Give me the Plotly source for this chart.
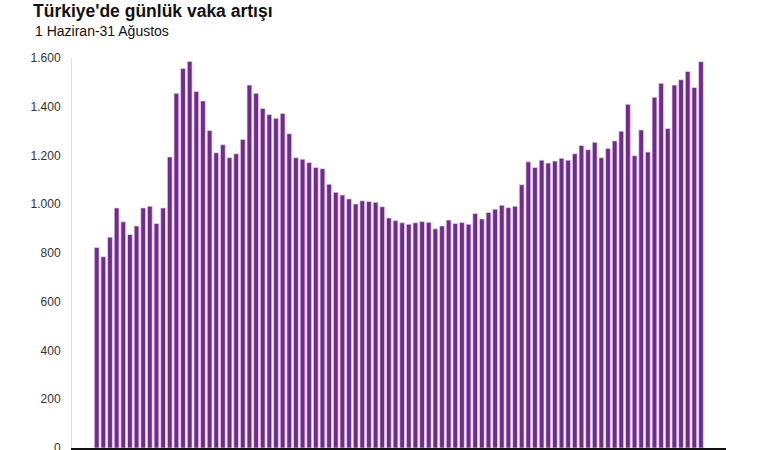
import plotly.graph_objects as go

days = list(range(1, 93))
cases = [
    823, 785, 865, 985, 928, 876, 911, 985, 992, 921,
    985, 1194, 1455, 1557, 1586, 1463, 1424, 1303, 1211, 1244,
    1191, 1207, 1266, 1489, 1455, 1393, 1368, 1353, 1372, 1289,
    1191, 1185, 1171, 1151, 1146, 1082, 1049, 1038, 1022, 1001,
    1014, 1011, 1008, 990, 944, 933, 924, 918, 924, 929,
    926, 899, 911, 935, 921, 925, 918, 962, 940, 966,
    980, 996, 986, 992, 1080, 1174, 1151, 1181, 1169, 1177,
    1189, 1181, 1207, 1241, 1224, 1254, 1191, 1229, 1260, 1300,
    1410, 1199, 1305, 1214, 1439, 1496, 1311, 1489, 1511, 1545,
    1479, 1585,
]
y_ticks = [0, 200, 400, 600, 800, 1000, 1200, 1400, 1600]
title = "Türkiye'de günlük vaka artışı"
subtitle = "1 Haziran-31 Ağustos"

W, H = 760, 450
ml, mr, mt, mb = 72, 34, 57.5, 1.5
pw = W - ml - mr
ph = H - mt - mb

fig = go.Figure(go.Bar(
    x=[d - 1 for d in days], y=cases,
    marker=dict(color="#722a8e", line=dict(color="#e6d8ee", width=0.7)),
    width=0.72,
    hoverinfo="y",
))

fig.update_layout(
    width=W, height=H,
    margin=dict(l=ml, r=mr, t=mt, b=mb, pad=0, autoexpand=False),
    paper_bgcolor="white", plot_bgcolor="white",
    separators=",.",
    showlegend=False,
    font=dict(family="Liberation Sans, Arial, sans-serif", color="#333333", size=12),
    xaxis=dict(
        range=[-3.72, 94.77], showgrid=False, zeroline=False,
        showticklabels=False, ticks="", automargin=False,
        showline=True, linecolor="#111111", linewidth=2,
    ),
    yaxis=dict(
        range=[0, 1600], tickvals=y_ticks, tickformat=",d",
        showgrid=False, zeroline=False, automargin=False,
        showline=True, linecolor="#dddddd", linewidth=1,
        ticks="", ticklabelstandoff=8, ticklabeloverflow="allow",
        tickfont=dict(size=12, color="#333333"),
    ),
    annotations=[
        dict(text="<b>" + title + "</b>", xref="paper", yref="paper",
             x=(31 - ml) / pw, y=1 + (mt + 2) / ph,
             xanchor="left", yanchor="top", showarrow=False,
             font=dict(size=17.5, color="#111111")),
        dict(text=subtitle, xref="paper", yref="paper",
             x=(33 - ml) / pw, y=1 + (mt - 20) / ph,
             xanchor="left", yanchor="top", showarrow=False,
             font=dict(size=14, color="#111111")),
    ],
)

fig.write_html("out.html", config={"displayModeBar": False},
               post_script="document.body.style.margin='0px';")
